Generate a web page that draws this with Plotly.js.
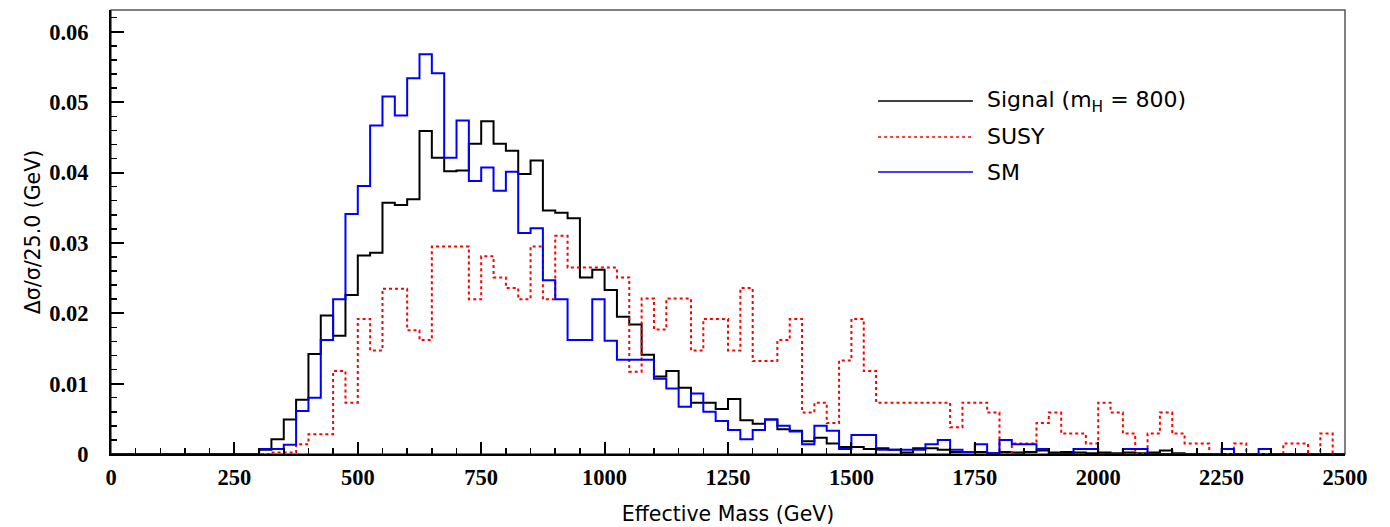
<!DOCTYPE html>
<html>
<head>
<meta charset="utf-8">
<script src="https://cdn.plot.ly/plotly-3.0.1.min.js"></script>
<style>html,body{margin:0;padding:0;background:#fff;}#chart{width:1390px;height:527px;}</style>
</head>
<body>
<div id="chart"></div>
<script>
// Histogram: 100 bins of 25 GeV from 0 to 2500 GeV
const binWidth = 25;
const xMin = 0;
const seriesNames = ["Signal (m<sub>H</sub> = 800)", "SUSY", "SM"];

const signal = [
  0,0,0,0,0,0,0,0,0,0,0,0,
  0.0006,0.0021,0.0049,0.0077,0.0142,0.0197,0.0168,0.0226,
  0.0282,0.0286,0.0357,0.0354,0.0362,0.0459,0.0421,0.0402,
  0.0403,0.0441,0.0473,0.0441,0.0431,0.0398,0.0417,0.0346,
  0.0343,0.0335,0.0251,0.0262,0.0233,0.0195,0.0184,0.0141,
  0.0110,0.0118,0.0094,0.0073,0.0073,0.0064,0.0078,0.0048,
  0.0043,0.0049,0.0035,0.0033,0.0018,0.0023,0.0015,0.0010,
  0.0010,0.0007,0.0008,0.0006,0.0002,0.0008,0.0008,0.0006,
  0.0003,0.0003,0.0003,0.0001,0.0003,0.0002,0.0003,0.0005,
  0.0002,0.0003,0.0002,0.0001,0.0002,0.0001,0.0002,0.0001,
  0.0002,0.0005,0.0001,0,0,0,0,0,
  0,0,0,0,0,0,0,0
];

const susy = [
  0,0,0,0,0,0,0,0,0,0,0,0,
  0,0.0002,0.0002,0.0014,0.0028,0.0028,0.0118,0.0073,
  0.0192,0.0147,0.0235,0.0235,0.0176,0.0162,0.0295,0.0295,
  0.0295,0.0220,0.0281,0.0251,0.0236,0.0220,0.0295,0.0220,
  0.0310,0.0265,0.0265,0.0265,0.0265,0.0251,0.0117,0.0221,
  0.0177,0.0221,0.0221,0.0147,0.0192,0.0192,0.0147,0.0236,
  0.0132,0.0132,0.0162,0.0192,0.0059,0.0073,0.0044,0.0133,
  0.0192,0.0118,0.0073,0.0073,0.0073,0.0073,0.0073,0.0073,
  0.0038,0.0073,0.0073,0.0059,0,0.0015,0.0015,0.0044,
  0.0059,0.0029,0.0029,0.0015,0.0073,0.0059,0.0029,0,
  0.0029,0.0059,0.0029,0.0015,0.0015,0,0,0.0015,
  0,0,0,0.0015,0.0015,0,0.0029,0
];

const sm = [
  0,0,0,0,0,0,0,0,0,0,0,0,
  0.0007,0.0007,0.0013,0.0061,0.0080,0.0162,0.0220,0.0341,
  0.0381,0.0467,0.0508,0.0481,0.0534,0.0568,0.0541,0.0421,
  0.0474,0.0388,0.0407,0.0374,0.0401,0.0314,0.0321,0.0247,
  0.0220,0.0162,0.0162,0.0220,0.0161,0.0134,0.0134,0.0134,
  0.0107,0.0093,0.0067,0.0086,0.0060,0.0047,0.0034,0.0021,
  0.0034,0.0049,0.0040,0.0032,0.0014,0.0040,0.0033,0.0007,
  0.0027,0.0027,0.0006,0.0006,0.0006,0.0006,0.0014,0.0020,
  0.0006,0.0003,0.0014,0.0001,0.0020,0.0014,0.0014,0.0007,
  0,0,0.0007,0.0007,0,0,0.0007,0.0007,
  0,0,0,0,0,0,0.0007,0,
  0,0.0007,0,0,0,0,0,0
];

const xTickVals = [0,250,500,750,1000,1250,1500,1750,2000,2250,2500];
const xTickText = ["0","250","500","750","1000","1250","1500","1750","2000","2250","2500"];
const yTickVals = [0,0.01,0.02,0.03,0.04,0.05,0.06];
const yTickText = ["0","0.01","0.02","0.03","0.04","0.05","0.06"];

function stepTrace(vals, name, color, dash, width) {
  const xs = [], ys = [];
  for (let i = 0; i < vals.length; i++) { xs.push(xMin + i*binWidth); ys.push(vals[i]); }
  xs.push(xMin + vals.length*binWidth); ys.push(vals[vals.length-1]);
  return {x: xs, y: ys, type: 'scatter', mode: 'lines', name: name,
          line: {shape: 'hv', color: color, dash: dash, width: width}, showlegend: false,
          hoverinfo: 'skip'};
}

const colors = ['#000000', '#ff0000', '#0000ff'];
const dashes = ['solid', 'dot', 'solid'];
const data = [
  stepTrace(signal, seriesNames[0], colors[0], dashes[0], 2),
  stepTrace(susy, seriesNames[1], colors[1], dashes[1], 2),
  stepTrace(sm, seriesNames[2], colors[2], dashes[2], 2)
];

const sansFont = '"DejaVu Sans", sans-serif';
const serifFont = '"Liberation Serif", "Times New Roman", serif';

// manual legend
const legY = [0.795, 0.714, 0.635];
const shapes = [{type:'rect', xref:'paper', yref:'paper', x0:0, x1:1, y0:0, y1:1,
                 line:{color:'#555', width:1.5}, layer:'below'}];
const annotations = [];
for (let k = 0; k < 3; k++) {
  shapes.push({type:'line', xref:'paper', yref:'paper', x0:0.6216, x1:0.6985, y0:legY[k], y1:legY[k],
               line:{color:colors[k], dash:dashes[k], width:1.5}});
  annotations.push({xref:'paper', yref:'paper', x:0.7083, y:legY[k], xanchor:'left', yanchor:'middle',
                    text: seriesNames[k], showarrow:false, font:{family:sansFont, size:22, color:'#000'}});
}

const layout = {
  width: 1390, height: 527,
  margin: {l: 111, r: 45, t: 10, b: 73},
  paper_bgcolor: '#fff', plot_bgcolor: '#fff',
  showlegend: false,
  xaxis: {
    range: [0, 2500], showgrid: false, zeroline: false,
    showline: true, linecolor: '#000', linewidth: 2,
    ticks: 'inside', ticklen: 12, tickwidth: 2, tickcolor: '#000',
    tickvals: xTickVals, ticktext: xTickText,
    minor: {dtick: 50, tick0: 0, ticks: 'inside', ticklen: 6, tickwidth: 1.5, tickcolor: '#000', showgrid: false},
    tickfont: {family: serifFont, size: 22.5, color: '#000', weight: 'bold'},
    ticklabelstandoff: 2,
    title: {text: 'Effective Mass (GeV)', font: {family: sansFont, size: 20.5, color: '#000'}, standoff: 18}
  },
  yaxis: {
    range: [0, 0.0631], showgrid: false, zeroline: false,
    showline: true, linecolor: '#000', linewidth: 2,
    ticks: 'inside', ticklen: 13, tickwidth: 2, tickcolor: '#000',
    tickvals: yTickVals, ticktext: yTickText,
    minor: {dtick: 0.002, tick0: 0, ticks: 'inside', ticklen: 6, tickwidth: 1.5, tickcolor: '#000', showgrid: false},
    tickfont: {family: serifFont, size: 22.5, color: '#000', weight: 'bold'},
    ticklabelstandoff: 16,
    title: {text: 'Δσ/σ/25.0 (GeV)', font: {family: sansFont, size: 20.5, color: '#000'}, standoff: 3}
  },
  shapes: shapes,
  annotations: annotations
};

Plotly.newPlot('chart', data, layout, {displayModeBar: false, staticPlot: true});
</script>
</body>
</html>
